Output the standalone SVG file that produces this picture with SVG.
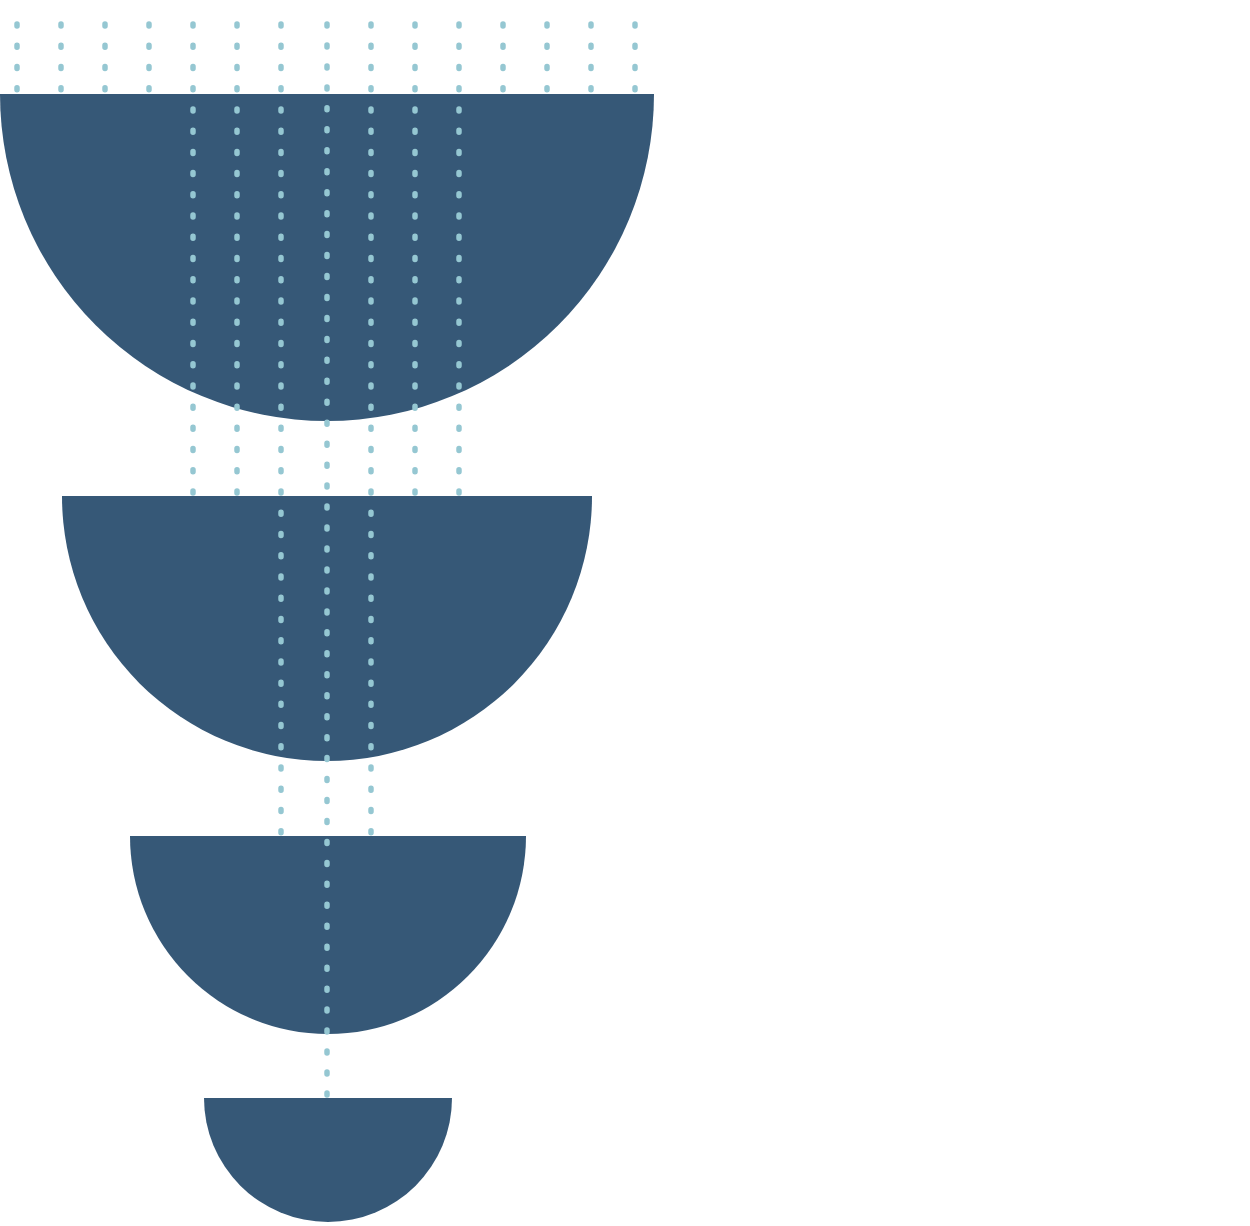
<svg xmlns="http://www.w3.org/2000/svg" width="1250" height="1226" viewBox="0 0 1250 1226">
<style>.b{fill:#365877}.d{stroke:#95c7d2;stroke-width:5.5;stroke-linecap:round;stroke-dasharray:2 19.23;fill:none}</style>
<rect width="1250" height="1226" fill="#fff"/>
<g id="bowls">
<path class="b" d="M0 94H654A327 327 0 0 1 0 94Z"/>
<path class="b" d="M62 496H592A265 265 0 0 1 62 496Z"/>
<path class="b" d="M130 836H526A198 198 0 0 1 130 836Z"/>
<path class="b" d="M204 1098H452A124 124 0 0 1 204 1098Z"/>
</g>
<g id="dots">
<path class="d" d="M17 24V92M61 24V92M105 24V92M149 24V92M503 24V92M547 24V92M591 24V92M635 24V92"/>
<path class="d" d="M193 24V494M237 24V494M415 24V494M459 24V494"/>
<path class="d" d="M281 24V834M371 24V834"/>
<path class="d" style="stroke-dasharray:2 18.96" d="M327 24V1096"/>
</g>
</svg>
